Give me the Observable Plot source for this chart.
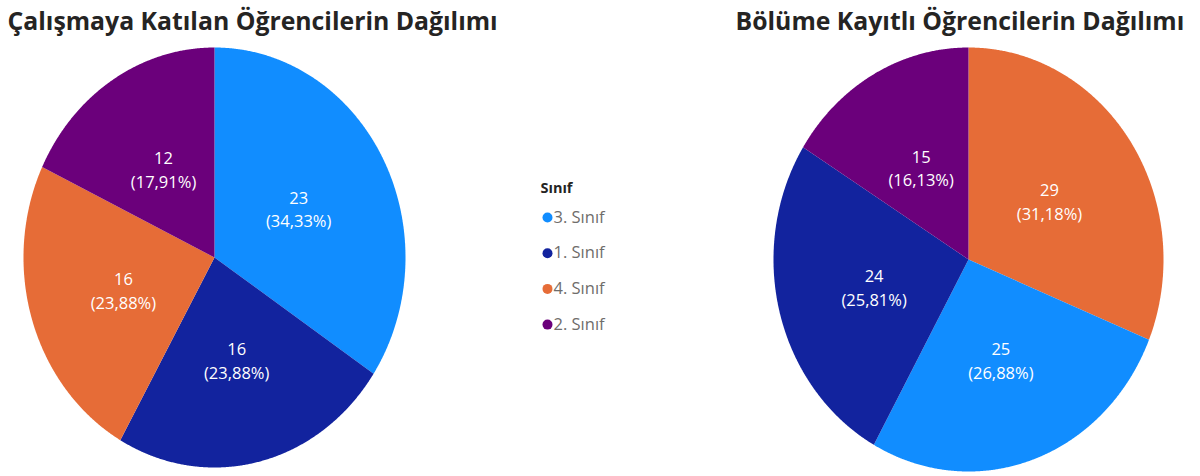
<!DOCTYPE html>
<html>
<head>
<meta charset="utf-8">
<script src="https://cdn.jsdelivr.net/npm/d3@7"></script>
<script src="https://cdn.jsdelivr.net/npm/@observablehq/plot@0.6"></script>
<style>
  body { margin: 0; background: #fff; }
  #chart svg { display: block; }
</style>
</head>
<body>
<div id="chart"></div>
<script>
// ---- data ----
const classes = ["3. Sınıf", "1. Sınıf", "4. Sınıf", "2. Sınıf"];
const classColors = ["#118DFF", "#12239E", "#E66C37", "#6B007B"];
const legendTitle = "Sınıf";

const leftTitle = "Çalışmaya Katılan Öğrencilerin Dağılımı";
const leftCats = ["3. Sınıf", "1. Sınıf", "4. Sınıf", "2. Sınıf"];
const leftValues = [23, 16, 16, 12];

const rightTitle = "Bölüme Kayıtlı Öğrencilerin Dağılımı";
const rightCats = ["4. Sınıf", "3. Sınıf", "1. Sınıf", "2. Sınıf"];
const rightValues = [29, 25, 24, 15];

// ---- layout ----
const W = 1200, H = 476;
const pies = [
  {id: "L", cats: leftCats, values: leftValues, cx: 214, cy: 257, rx: 191, ry: 210},
  {id: "R", cats: rightCats, values: rightValues, cx: 968, cy: 259, rx: 195, ry: 212}
];
const fontFam = "'Open Sans', 'Noto Sans', sans-serif";

const fmtPct = v => (v * 100).toFixed(2).replace(".", ",") + "%";

const polys = [];
const labels = [];
for (const p of pies) {
  const total = d3.sum(p.values);
  const arcs = d3.pie().sort(null)(p.values);
  arcs.forEach((a, i) => {
    const key = p.id + i;
    const cat = p.cats[i];
    polys.push({key, cat, x: p.cx, y: p.cy});
    const n = Math.max(2, Math.ceil((a.endAngle - a.startAngle) / 0.005));
    for (let k = 0; k <= n; k++) {
      const t = a.startAngle + (a.endAngle - a.startAngle) * k / n;
      polys.push({key, cat, x: p.cx + p.rx * Math.sin(t), y: p.cy - p.ry * Math.cos(t)});
    }
    polys.push({key, cat, x: p.cx, y: p.cy});
    const m = (a.startAngle + a.endAngle) / 2;
    labels.push({
      x: p.cx + 0.5 * p.rx * Math.sin(m),
      y: p.cy - 0.5 * p.ry * Math.cos(m),
      text: `${p.values[i]}\n(${fmtPct(p.values[i] / total)})`
    });
  });
}

const titles = [
  {x: 7, y: 22, text: leftTitle},
  {x: 735, y: 22, text: rightTitle}
];
const legendItems = classes.map((c, i) => ({cat: c, x: 547, y: 217 + i * 35.7}));

const chart = Plot.plot({
  width: W,
  height: H,
  margin: 0,
  x: {domain: [0, W], range: [0, W], axis: null},
  y: {domain: [0, H], range: [0, H], axis: null},
  color: {domain: classes, range: classColors},
  style: {fontFamily: fontFam, background: "#fff"},
  marks: [
    Plot.line(polys, {x: "x", y: "y", z: "key", fill: "cat", stroke: "none", curve: "linear"}),
    Plot.text(labels, {x: "x", y: "y", text: "text", fill: "white", fontSize: 16.5, lineHeight: 1.45, fontFamily: fontFam}),
    Plot.text(titles, {x: "x", y: "y", text: "text", textAnchor: "start", fontSize: 24.8, fontWeight: "bold", fill: "#252423", fontFamily: fontFam}),
    Plot.text([legendTitle], {x: 540, y: 188, text: d => d, textAnchor: "start", fontSize: 14.5, fontWeight: "bold", fill: "#252423", fontFamily: fontFam}),
    Plot.dot(legendItems, {x: "x", y: "y", r: 5, fill: "cat", stroke: "none"}),
    Plot.text(legendItems, {x: d => d.x + 6, y: "y", text: "cat", textAnchor: "start", fontSize: 16.5, fill: "#6F6D6B", fontFamily: fontFam})
  ]
});
document.getElementById("chart").appendChild(chart);
</script>
</body>
</html>
